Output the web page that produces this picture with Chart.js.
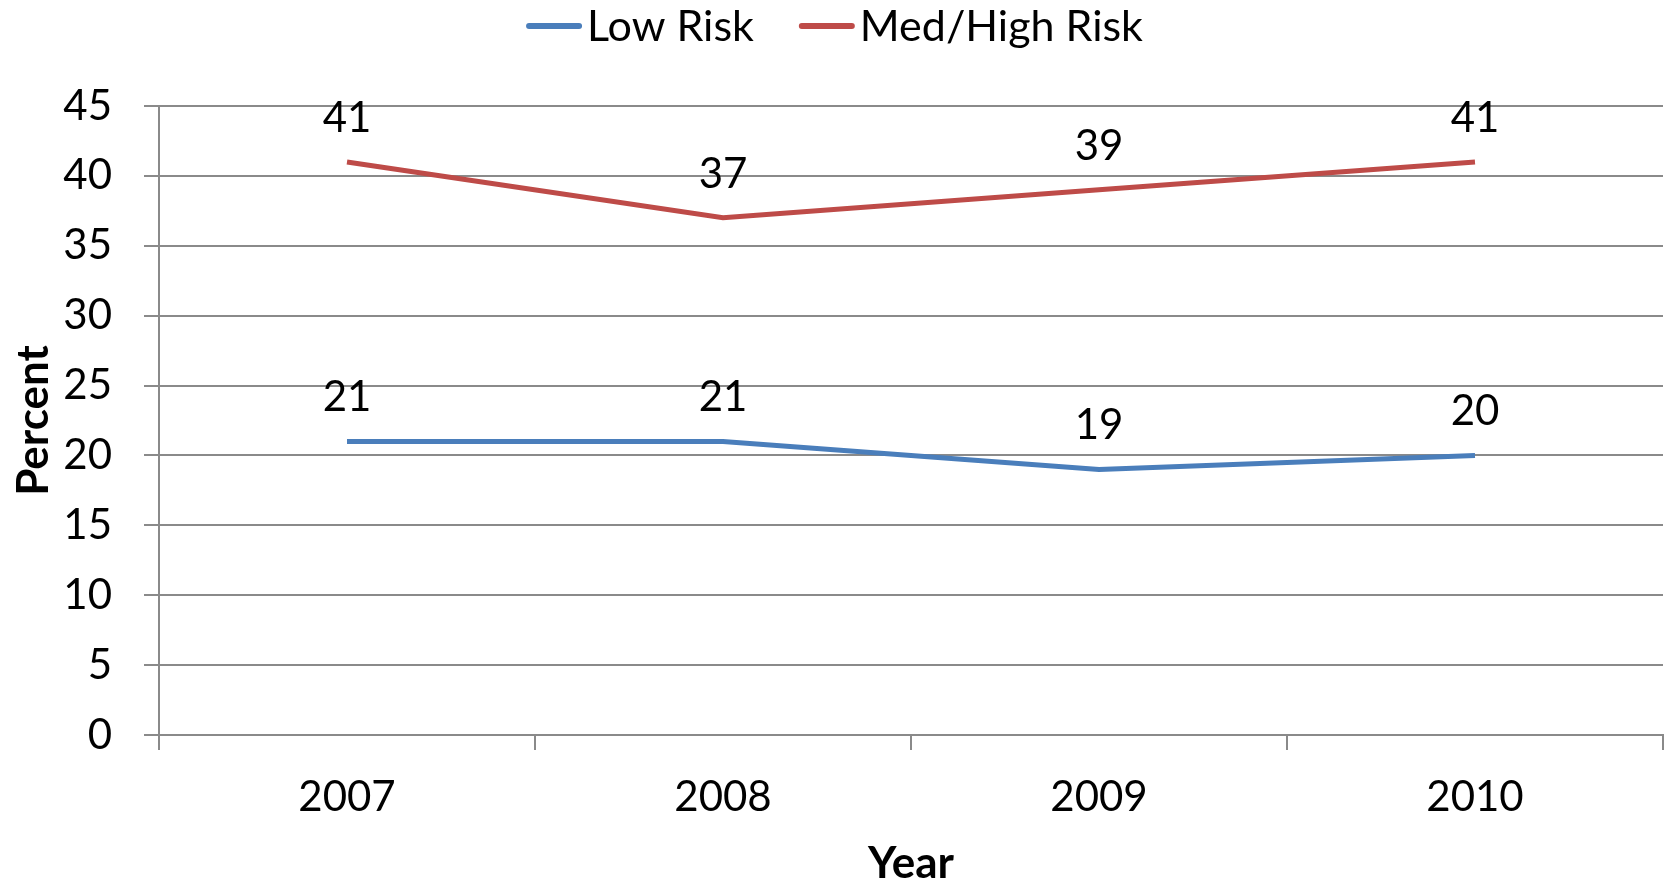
<!DOCTYPE html>
<html lang="en">
<head>
    <meta charset="UTF-8">
    <title>Risk by Year</title>
    <style>
        html, body { margin: 0; padding: 0; background: #fff; }
        #wrap { width: 1669px; height: 881px; }
    </style>
</head>
<body>
    <div id="wrap">
        <canvas id="riskChart" width="1669" height="881"></canvas>
    </div>
    <script src="https://cdn.jsdelivr.net/npm/chart.js"></script>
    <script>
        var years = ['2007', '2008', '2009', '2010'];
        var lowRisk = [21, 21, 19, 20];
        var medHighRisk = [41, 37, 39, 41];
        var yTicks = { min: 0, max: 45, step: 5 };

        var gridColor = '#8a8a8a';
        Chart.defaults.font.family = 'Lato';
        Chart.defaults.color = '#000';

        // values above each point
        var pointLabels = {
            id: 'pointLabels',
            afterDatasetsDraw: function(chart) {
                var ctx = chart.ctx;
                ctx.save();
                ctx.font = '42px Lato';
                ctx.fillStyle = '#000';
                ctx.textAlign = 'center';
                ctx.textBaseline = 'alphabetic';
                chart.data.datasets.forEach(function(ds, i) {
                    chart.getDatasetMeta(i).data.forEach(function(pt, j) {
                        ctx.fillText(ds.data[j], pt.x, pt.y - 30);
                    });
                });
                ctx.restore();
            }
        };

        // legend with short gap between line and text
        var topLegend = {
            id: 'topLegend',
            afterDraw: function(chart) {
                var ctx = chart.ctx;
                ctx.save();
                ctx.font = '43px Lato';
                var lineLen = 56, gap = 5, itemGap = 45;
                var widths = chart.data.datasets.map(function(ds) {
                    return lineLen + gap + ctx.measureText(ds.label).width;
                });
                var total = widths.reduce(function(a, b) { return a + b; }, 0) + itemGap * (widths.length - 1);
                var x = (chart.width - total) / 2;
                chart.data.datasets.forEach(function(ds, i) {
                    ctx.strokeStyle = ds.borderColor;
                    ctx.lineWidth = 6;
                    ctx.lineCap = 'round';
                    ctx.beginPath();
                    ctx.moveTo(x + 3, 26);
                    ctx.lineTo(x + lineLen - 3, 26);
                    ctx.stroke();
                    ctx.fillStyle = '#000';
                    ctx.textAlign = 'left';
                    ctx.textBaseline = 'alphabetic';
                    ctx.fillText(ds.label, x + lineLen + gap, 41);
                    x += widths[i] + itemGap;
                });
                ctx.restore();
            }
        };

        new Chart(document.getElementById('riskChart').getContext('2d'), {
            type: 'line',
            data: {
                labels: years,
                datasets: [{
                    label: 'Low Risk',
                    data: lowRisk,
                    borderColor: '#4a7ebb',
                    backgroundColor: '#4a7ebb',
                    borderWidth: 5,
                    pointRadius: 0,
                    tension: 0,
                    fill: false
                }, {
                    label: 'Med/High Risk',
                    data: medHighRisk,
                    borderColor: '#be4b48',
                    backgroundColor: '#be4b48',
                    borderWidth: 5,
                    pointRadius: 0,
                    tension: 0,
                    fill: false
                }]
            },
            options: {
                responsive: false,
                animation: false,
                devicePixelRatio: 1,
                layout: { padding: { top: 106, right: 6, left: 0, bottom: 0 } },
                plugins: {
                    legend: { display: false },
                    tooltip: { enabled: false }
                },
                scales: {
                    x: {
                        offset: true,
                        grid: {
                            offset: true,
                            drawOnChartArea: false,
                            tickLength: 15,
                            color: gridColor,
                            lineWidth: 2
                        },
                        border: { color: gridColor, width: 2 },
                        ticks: { font: { size: 42 }, padding: 22 },
                        title: {
                            display: true,
                            text: 'Year',
                            font: { size: 44, weight: 'bold' },
                            padding: { top: 0, bottom: -9 }
                        },
                        afterFit: function(scale) { scale.height = 146; }
                    },
                    y: {
                        min: yTicks.min,
                        max: yTicks.max,
                        ticks: { stepSize: yTicks.step, font: { size: 42 }, padding: 32 },
                        grid: {
                            tickLength: 15,
                            color: gridColor,
                            lineWidth: 2
                        },
                        border: { color: gridColor, width: 2 },
                        title: {
                            display: true,
                            text: 'Percent',
                            font: { size: 44, weight: 'bold' },
                            padding: { top: 7, bottom: 0 }
                        },
                        afterFit: function(scale) { scale.width = 159; }
                    }
                }
            },
            plugins: [pointLabels, topLegend]
        });
    </script>
</body>
</html>
